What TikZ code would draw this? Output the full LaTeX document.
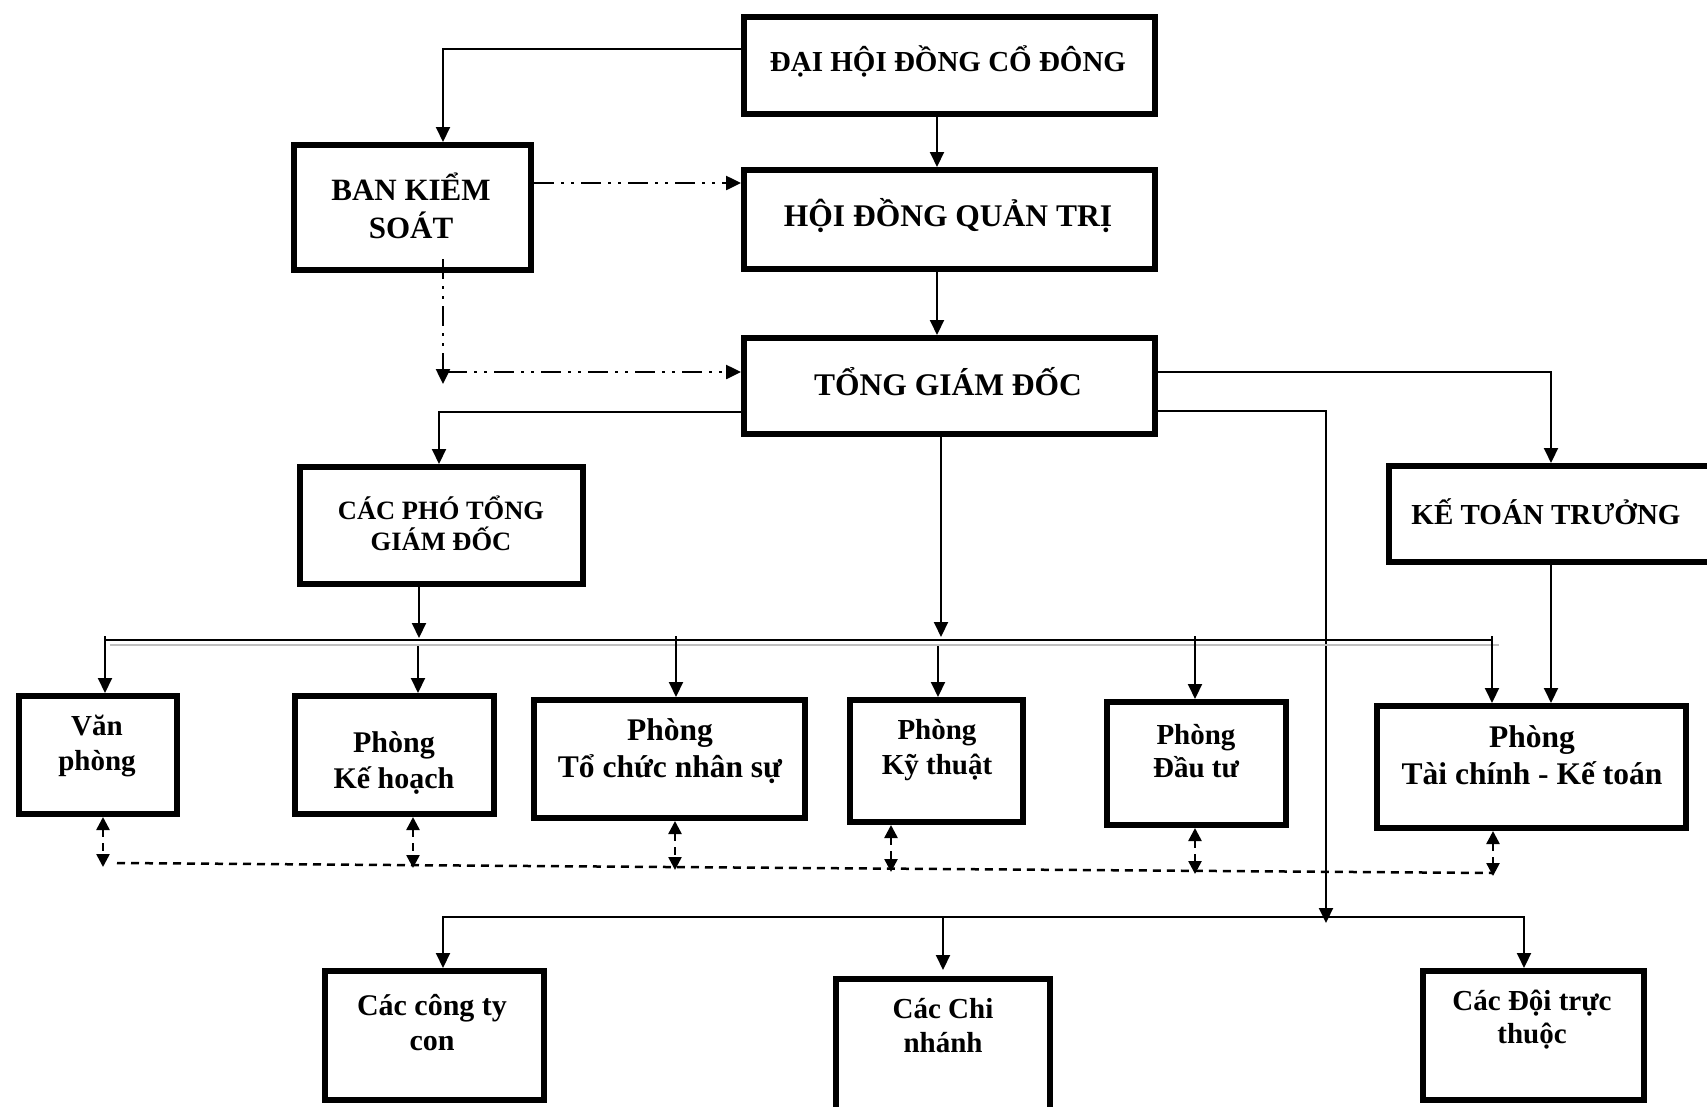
\documentclass[tikz,border=0pt]{standalone}
\usepackage{fontspec}
\setmainfont{Liberation Serif}
\usetikzlibrary{arrows.meta,calc}
\newcommand\fsz[1]{\fontsize{#1}{#1}\selectfont\bfseries}
\newcommand\ml[2]{\vtop{\baselineskip=#1\lineskiplimit=-1000pt\lineskip=0pt\relax\halign{\hfil##\hfil\cr#2\crcr}}}
\newcommand\bx[5]{\node[boxst, minimum width={(#4)-(#2)-6}, minimum height={(#5)-(#3)-6}] (#1) at ({((#2)+(#4))/2},{((#3)+(#5))/2}) {};}
\begin{document}
\begin{tikzpicture}[x=1pt,y=-1pt,
  boxst/.style={draw, line width=6pt, rectangle, inner sep=0pt},
  txt/.style={anchor=base, inner sep=0pt},
  con/.style={line width=2pt},
  arr/.style={con, -{Triangle[length=15pt,width=14pt]}},
  ddd/.style={line width=2.5pt, dash pattern=on 20pt off 7pt on 3pt off 7pt on 3pt off 7pt, -{Triangle[length=15pt,width=14pt]}},
  dsh/.style={line width=2.5pt, dash pattern=on 8pt off 6pt},
  darr/.style={dsh, {Triangle[length=13pt,width=13pt]}-{Triangle[length=13pt,width=13pt]}},
]
\useasboundingbox (0,0) rectangle (1707,1106);
\clip (0,0) rectangle (1707,1106);
% boxes
\bx{dh}{741}{14}{1158}{117}
\bx{hd}{741}{167}{1158}{272}
\bx{tg}{741}{335}{1158}{437}
\bx{bk}{291}{142}{534}{273}
\bx{pt}{297}{464}{586}{587}
\bx{kt}{1386}{463}{1718}{565}
\bx{vp}{16}{693}{180}{817}
\bx{kh}{292}{693}{497}{817}
\bx{tc}{531}{697}{808}{821}
\bx{kth}{847}{697}{1026}{825}
\bx{dt}{1104}{699}{1289}{828}
\bx{tckt}{1374}{703}{1689}{831}
\bx{ct}{322}{968}{547}{1103}
\bx{cn}{833}{976}{1053}{1125}
\bx{dtt}{1420}{968}{1647}{1103}
% texts
\node[txt, font=\fsz{29}] (dhT) at (948,71) {ĐẠI HỘI ĐỒNG CỔ ĐÔNG};
\node[txt, font=\fsz{31.5}] (hdT) at (948,226) {HỘI ĐỒNG QUẢN TRỊ};
\node[txt, font=\fsz{31.5}] (tgT) at (948,395) {TỔNG GIÁM ĐỐC};
\node[txt, font=\fsz{31}] (bkT) at (411,200) {\ml{38pt}{BAN KIỂM\cr SOÁT}};
\node[txt, font=\fsz{26.5}] (ptT) at (441,519) {\ml{31pt}{CÁC PHÓ TỔNG\cr GIÁM ĐỐC}};
\node[txt, font=\fsz{29}] (ktT) at (1546,524) {KẾ TOÁN TRƯỞNG};
\node[txt, font=\fsz{29}] (vpT) at (97,735) {\ml{35pt}{Văn\cr phòng}};
\node[txt, font=\fsz{30}] (khT) at (394,752) {\ml{36pt}{Phòng\cr Kế hoạch}};
\node[txt, font=\fsz{31.5}] (tcT) at (670,740) {\ml{37pt}{Phòng\cr Tổ chức nhân sự}};
\node[txt, font=\fsz{29}] (kthT) at (937,739) {\ml{35pt}{Phòng\cr Kỹ thuật}};
\node[txt, font=\fsz{29}] (dtT) at (1196,744) {\ml{33pt}{Phòng\cr Đầu tư}};
\node[txt, font=\fsz{31.5}] (tcktT) at (1532,747) {\ml{37pt}{Phòng\cr Tài chính - Kế toán}};
\node[txt, font=\fsz{30}] (ctT) at (432,1015) {\ml{35pt}{Các công ty\cr con}};
\node[txt, font=\fsz{29}] (cnT) at (943,1018) {\ml{34pt}{Các Chi\cr nhánh}};
\node[txt, font=\fsz{29}] (dttT) at (1532,1010) {\ml{33pt}{Các Đội trực\cr thuộc}};
% coordinates
\coordinate (a1) at (443,49);
\coordinate (xa) at (937,0);
\coordinate (e1) at (0,183);
\coordinate (v1) at (443,384);
\coordinate (b1) at (447,372);
\coordinate (c1) at (439,412);
\coordinate (k1) at (1551,372);
\coordinate (m1) at (1326,411);
\coordinate (m2) at (1326,923);
\coordinate (ph) at (419,638);
\coordinate (tb) at (941,637);
\coordinate (pL) at (105,640);
\coordinate (pR) at (1492,640);
\coordinate (gL) at (110,645);
\coordinate (gR) at (1499,645);
\coordinate (d1) at (105,636);
\coordinate (d2) at (418,646);
\coordinate (d3) at (676,636);
\coordinate (d4) at (938,646);
\coordinate (d5) at (1195,636);
\coordinate (d6) at (1492,636);
\coordinate (q1) at (103,867);
\coordinate (q2) at (413,868);
\coordinate (q3) at (675,870);
\coordinate (q4) at (891,872);
\coordinate (q5) at (1195,874);
\coordinate (q6) at (1493,876);
\coordinate (dlA) at (117,863);
\coordinate (dlB) at (1493,873);
\coordinate (bL) at (443,917);
\coordinate (bR) at (1524,917);
% upper connectors
\draw[arr] (dh.west |- a1) -| (bk.north -| a1);
\draw[arr] (dh.south -| xa) -- (hd.north -| xa);
\draw[arr] (hd.south -| xa) -- (tg.north -| xa);
\draw[ddd] (bk.east |- e1) -- (hd.west |- e1);
\draw[ddd] ($(bk.south -| v1)+(0,-14)$) -- (v1);
\draw[ddd] (b1) -- (tg.west |- b1);
\draw[arr] (tg.west |- c1) -| (pt.north -| c1);
\draw[arr] (tg.east |- k1) -| (kt.north -| k1);
\draw[arr] (tg.east |- m1) -| (m2);
\draw[arr] (pt.south -| ph) -- (ph);
\draw[arr] (tg.south -| tb) -- (tb);
\draw[arr] (kt.south -| k1) -- (tckt.north -| k1);
% department bus
\draw[line width=2pt, black!25] (gL) -- (gR);
\draw[con] (pL) -- (pR);
\foreach \dd/\bn in {d1/vp,d2/kh,d3/tc,d4/kth,d5/dt,d6/tckt}
  \draw[arr] (\dd) -- (\bn.north -| \dd);
% dashed links
\draw[dsh] (dlA) -- (dlB);
\foreach \dd/\bn in {q1/vp,q2/kh,q3/tc,q4/kth,q5/dt,q6/tckt}
  \draw[darr] (\bn.south -| \dd) -- (\dd);
% lower bus
\draw[arr] (bR) -- (bL) -- (ct.north -| bL);
\draw[arr, shorten >=6pt] (cn.north |- bL) -- (cn.north);
\draw[arr] (bL) -- (bR) -- (dtt.north -| bR);
\end{tikzpicture}
\end{document}
